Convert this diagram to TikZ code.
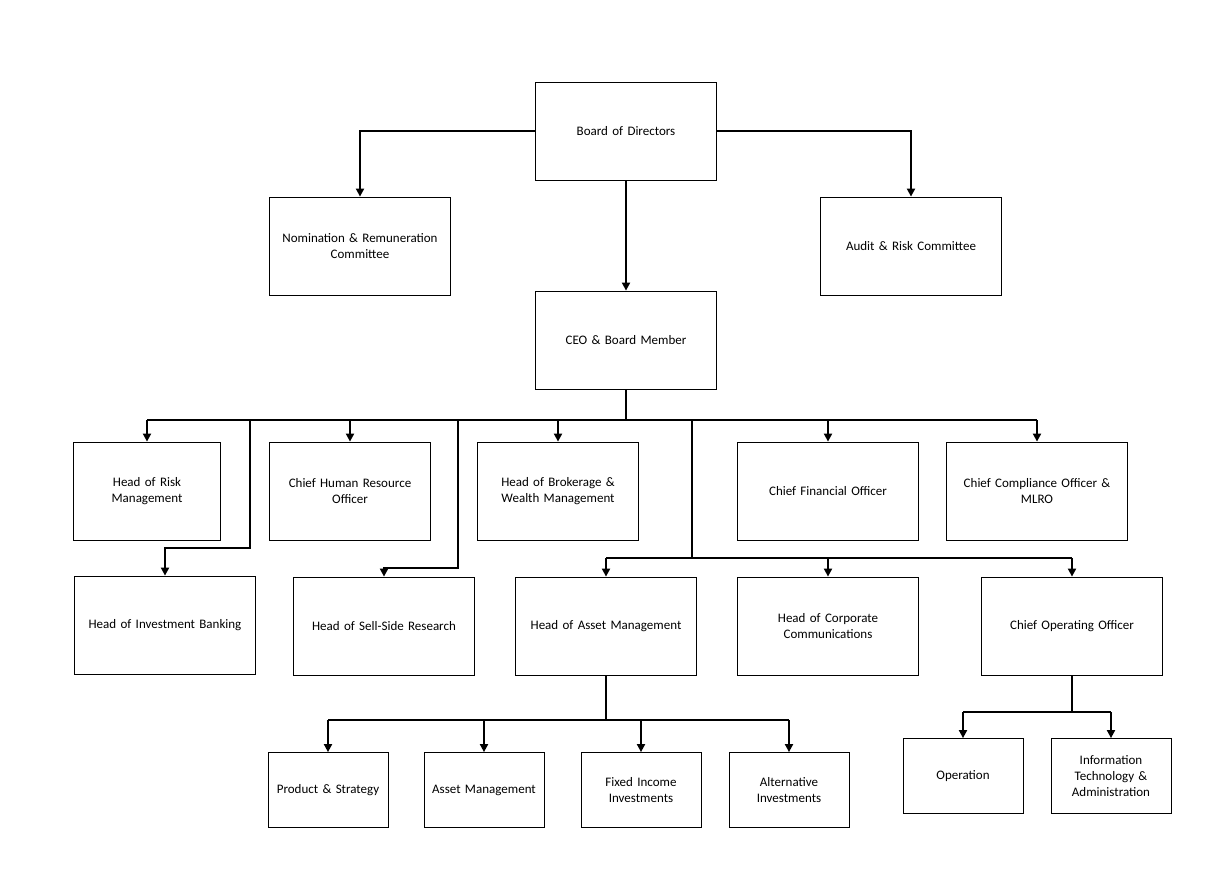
\documentclass[tikz,border=0pt]{standalone}
\usepackage{fontspec}
\setmainfont{Carlito}
\usetikzlibrary{arrows.meta}
\begin{document}
\begin{tikzpicture}[x=1pt,y=-1pt,
  box/.style={draw, line width=0.8pt, align=center, inner sep=2pt, font=\fontsize{13}{16}\selectfont},
  big/.style={box, minimum width=181pt, minimum height=98pt, text width=170pt},
  small/.style={box, minimum width=120pt, minimum height=75pt, text width=114pt},
  link/.style={line width=1.8pt},
  arr/.style={link, -{Triangle[length=8pt,width=8pt]}}]
\useasboundingbox (0,0) rectangle (1226,871);
% board level
\node[big] (board) at (626,131) {Board of Directors};
\node[big] (nom) at (360,246) {Nomination \& Remuneration\\Committee};
\node[big] (audit) at (911,246) {Audit \& Risk Committee};
\node[big] (ceo) at (626,340) {CEO \& Board Member};
% first row
\node[big, minimum width=147pt, text width=120pt] (risk) at (147,491) {Head of Risk\\Management};
\node[big, minimum width=161pt, text width=150pt] (chro) at (350,491) {Chief Human Resource\\Officer};
\node[big, minimum width=161pt, text width=150pt] (brok) at (558,491) {Head of Brokerage \&\\Wealth Management};
\node[big] (cfo) at (828,491) {Chief Financial Officer};
\node[big] (comp) at (1037,491) {Chief Compliance Officer \&\\MLRO};
% second row
\node[big] (ib) at (165,625) {Head of Investment Banking};
\node[big] (sell) at (384,626) {Head of Sell-Side Research};
\node[big] (ham) at (606,626) {Head of Asset Management};
\node[big] (corp) at (828,626) {Head of Corporate\\Communications};
\node[big] (coo) at (1072,626) {Chief Operating Officer};
% third row
\node[small] (prod) at (328,790) {Product \& Strategy};
\node[small] (am) at (484,790) {Asset Management};
\node[small] (fixed) at (641,790) {Fixed Income\\Investments};
\node[small] (alt) at (789,790) {Alternative\\Investments};
\node[small] (oper) at (963,776) {Operation};
\node[small] (it) at (1111,776) {Information\\Technology \&\\Administration};
% connectors
\coordinate (bus) at (626,420);
\draw[arr] (board.west) -| (nom.north);
\draw[arr] (board.east) -| (audit.north);
\draw[arr] (board) -- (ceo);
\draw[link] (ceo.south) -- (bus);
\draw[link] (147,420) -- (1037,420);
\foreach \n in {risk,chro,brok,cfo,comp}
  \draw[arr] (\n.north |- bus) -- (\n.north);
\draw[arr] (250,420) -- (250,548) -| (ib.north);
\draw[arr] (458,420) -- (458,568) -| (sell.north);
\draw[link] (692,420) -- (692,558);
\draw[link] (606,558) -- (1072,558);
\foreach \n in {ham,corp,coo}
  \draw[arr] (\n.north |- 0,558) -- (\n.north);
\draw[link] (ham.south) -- (606,720);
\draw[link] (328,720) -- (789,720);
\foreach \n in {prod,am,fixed,alt}
  \draw[arr] (\n.north |- 0,720) -- (\n.north);
\draw[link] (coo.south) -- (1072,712);
\draw[link] (963,712) -- (1111,712);
\foreach \n in {oper,it}
  \draw[arr] (\n.north |- 0,712) -- (\n.north);
\end{tikzpicture}
\end{document}
